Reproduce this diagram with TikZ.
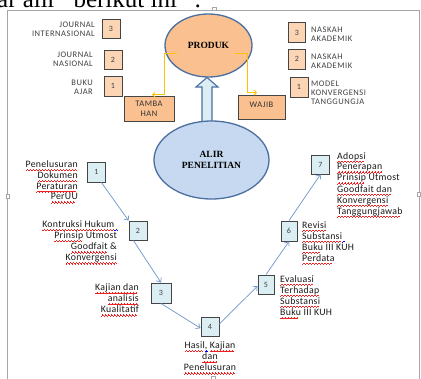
\documentclass[tikz,border=0pt]{standalone}
\usepackage{fontspec}
\usetikzlibrary{arrows.meta,shapes.geometric}
\newfontfamily\calib{Carlito}
\newfontfamily\calibsp{Carlito}[LetterSpace=6]
\newfontfamily\calibfl{Carlito}[LetterSpace=3]
\newfontfamily\tnr{Liberation Serif}
\definecolor{peach}{HTML}{FCD5B5}
\definecolor{orng}{HTML}{FAC090}
\definecolor{lblue}{HTML}{DBEEF4}
\definecolor{ellblue}{HTML}{C6D9F1}
\definecolor{edgeblue}{HTML}{4A6FA0}
\definecolor{arrblue}{HTML}{6E96CC}
\definecolor{yel}{HTML}{FFC000}
\definecolor{boxedge}{HTML}{454545}
\definecolor{frame}{HTML}{A6A6A6}
\definecolor{wavered}{HTML}{F02020}
\newcommand\wavepiece{\rule[-3.3pt]{0.75pt}{0.6pt}\rule[-2.7pt]{0.75pt}{0.6pt}\rule[-2.1pt]{0.75pt}{0.6pt}\rule[-2.7pt]{0.75pt}{0.6pt}}
\newsavebox\sqbox
\newcommand\sq[1]{\sbox\sqbox{#1}\leavevmode\rlap{\hbox to\wd\sqbox{\color{wavered}\leaders\hbox{\wavepiece}\hfil}}\usebox\sqbox}
\newcommand\bq[1]{\sbox\sqbox{#1}\leavevmode\rlap{\hbox to 4.5pt{\color{blue}\leaders\hbox{\wavepiece}\hfil}}\usebox\sqbox}
\tikzset{
  numbox/.style={draw=boxedge, line width=0.9pt, minimum width=18pt, minimum height=19pt, inner sep=0pt,
    font=\calib\fontsize{8}{9}\selectfont, text=black!75},
  peachbox/.style={numbox, fill=peach},
  flowbox/.style={numbox, fill=lblue},
  capslab/.style={font=\calibsp\fontsize{8.5}{9.2}\selectfont, text=black!75, inner sep=0pt},
  flowlab/.style={font=\calibfl\fontsize{9.8}{9.5}\selectfont, text=black!90, inner sep=0pt},
  prodbox/.style={draw=boxedge, line width=0.9pt, fill=orng, inner sep=0pt, align=center,
    font=\calibsp\fontsize{8.5}{10}\selectfont, text=black!80},
  bigell/.style={ellipse, draw=edgeblue, line width=1.3pt, inner sep=0pt, align=center,
    font=\tnr\bfseries\fontsize{9.5}{11}\selectfont},
  flowarr/.style={draw=arrblue, line width=0.7pt, -{Straight Barb[length=3.5pt,width=6pt]}},
  yarr/.style={draw=yel, line width=0.8pt, -{Straight Barb[length=2.5pt,width=5pt]}},
  handle/.style={draw=frame, fill=white, line width=0.5pt, minimum width=4pt, minimum height=3pt, inner sep=0pt}
}
\begin{document}
\begin{tikzpicture}[x=1pt,y=-1pt]
\useasboundingbox (0,0) rectangle (421,379);
\fill[white] (0,0) rectangle (421,379);
% cropped heading text
\begin{scope}
\clip (0,0) rectangle (421,379);
\node[anchor=base west, inner sep=0pt, font=\tnr\fontsize{25}{25}\selectfont] (head) at (-3,7.5) {ar alir \textquotedblleft berikut ini\textquotedblright\ :};
\end{scope}
% frame
\draw[frame, line width=0.8pt] (7,379) -- (7,10) -- (419,10) -- (419,379);
\node[handle] (h1) at (214,9) {};
\node[handle, minimum width=3pt, minimum height=4pt] (h2) at (8,196) {};
\node[handle, minimum width=3pt, minimum height=4pt] (h3) at (419,194) {};
\node[handle] (h4) at (213,378) {};

% block arrow and ellipses
\node[bigell, fill=orng, minimum width=87pt, minimum height=63pt] (prod) at (208.5,45.5) {PRODUK};
\filldraw[fill=lblue, draw=edgeblue, line width=1.1pt] (202,124) -- (202,87) -- (196,87) -- (207,77.5) -- (218,87) -- (212,87) -- (212,124);
\node[bigell, fill=ellblue, minimum width=115pt, minimum height=78pt] (alir) at (211.5,160) {ALIR\\PENELITIAN};

% products
\node[prodbox, minimum width=50pt, minimum height=25pt] (tam) at (149,108.5) {TAMBA\\HAN};
\node[prodbox, minimum width=47pt, minimum height=24pt] (waj) at (261.5,107) {\raisebox{4pt}{WAJIB}};
\coordinate (pl) at (177,53);
\coordinate (pr) at (235,53);
\draw[yarr] (pl) -| ([xshift=15pt,yshift=1pt]tam.north) -- ([xshift=3pt,yshift=1pt]tam.north);
\draw[yarr] (pr) -| ([xshift=-14.5pt,yshift=2pt]waj.north) -- ([xshift=-4.5pt,yshift=2pt]waj.north);

% left number boxes
\node[peachbox] (nb3) at (111,29) {3};
\node[peachbox] (nb2) at (113,59.5) {2};
\node[peachbox, minimum height=20pt] (nb1) at (113,86) {1};
\node[capslab, anchor=east, align=right] (lj3) at (95,29.5) {JOURNAL\\INTERNASIONAL};
\node[capslab, anchor=east, align=right] (lj2) at (93,59.5) {JOURNAL\\NASIONAL};
\node[capslab, anchor=east, align=right] (lj1) at (93,87) {BUKU\\AJAR};

% right number boxes
\node[peachbox, minimum width=17pt, minimum height=20pt] (nr3) at (297,32.5) {3};
\node[peachbox, minimum width=17pt, minimum height=20pt] (nr2) at (297,59) {2};
\node[peachbox, minimum height=20pt] (nr1) at (299,87) {1};
\node[capslab, anchor=west, align=left] (ln3) at (311,34.5) {NASKAH\\AKADEMIK};
\node[capslab, anchor=west, align=left] (ln2) at (311,61.5) {NASKAH\\AKADEMIK};
\node[capslab, anchor=west, align=left] (ln1) at (311,93) {MODEL\\KONVERGENSI\\TANGGUNGJA};

% flow boxes
\node[flowbox, minimum height=20pt] (f1) at (96.5,172) {1};
\node[flowbox] (f2) at (138,230.5) {2};
\node[flowbox, minimum width=20pt, minimum height=20pt] (f3) at (161,293) {3};
\node[flowbox] (f4) at (210,326.5) {4};
\node[flowbox, minimum width=16pt] (f5) at (266,284.5) {5};
\node[flowbox, minimum width=16pt, minimum height=20pt] (f6) at (289,231) {6};
\node[flowbox] (f7) at (320.5,164.5) {7};

\draw[flowarr] (f1.-65) -- (f2.north west);
\draw[flowarr] (f2.-115) -- (f3.north);
\draw[flowarr] (f3.south) -- (f4.190);
\draw[flowarr] (f4.15) -- (f5.190);
\draw[flowarr] (f5.north) -- (f6.south);
\draw[flowarr] (f6.north) -- (f7.south);

% flow labels
\node[flowlab, anchor=east, align=right] (t1) at (78,182) {\sq{Penelusuran}\\\sq{Dokumen}\\\sq{Peraturan}\\\sq{PerUU}};
\node[flowlab, anchor=east, align=right] (t2) at (117,242.5) {\sq{Kontruksi Hukum}\bq{\ }\\\sq{Prinsip} Utmost\\\sq{Goodfait} \&\\\sq{Konvergensi}};
\node[flowlab, anchor=east, align=right] (t3) at (139,300) {\sq{Kajian dan}\\\sq{analisis}\\\sq{Kualitatif}};
\node[flowlab, align=center] (t4) at (210,358) {\sq{Hasil}\bq{,\ }\sq{Kajian}\\\sq{dan}\\\sq{Penelusuran}};
\node[flowlab, anchor=west, align=left] (t5) at (280,297) {\sq{Evaluasi}\\\sq{Terhadap}\\\sq{Substansi}\\\sq{Buku} III KUH};
\node[flowlab, anchor=west, align=left] (t6) at (302,243) {\sq{Revisi}\\\sq{Substansi}\bq{\ }\\\sq{Buku} III KUH\\\sq{Perdata}};
\node[flowlab, anchor=west, align=left] (t7) at (337,185) {\sq{Adopsi}\\\sq{Penerapan}\\\sq{Prinsip} Utmost\\\sq{Goodfait dan}\\\sq{Konvergensi}\\\sq{Tanggungjawab}};
\end{tikzpicture}
\end{document}
